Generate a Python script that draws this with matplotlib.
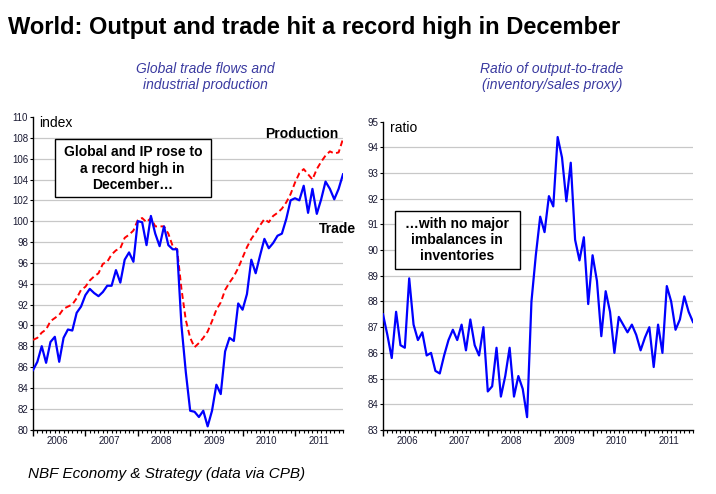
import numpy as np
import matplotlib
matplotlib.use("Agg")
import matplotlib.pyplot as plt
import matplotlib.transforms as mtransforms
from matplotlib import font_manager
from matplotlib.patches import Rectangle


def pick_font(*names):
    for n in names:
        try:
            font_manager.findfont(font_manager.FontProperties(family=n),
                                  fallback_to_default=False)
            return n
        except ValueError:
            continue
    return "DejaVu Sans"


SANS = pick_font("Liberation Sans", "Arial")
NARROW = pick_font("Liberation Sans Narrow", "Arial Narrow", SANS)
plt.rcParams["font.family"] = SANS

# --- data: monthly, Jan 2006 .. Dec 2011 ---
years = ["2006", "2007", "2008", "2009", "2010", "2011"]

production = [
    88.6, 88.8, 89.3, 89.6, 90.4, 90.7, 91.0, 91.6, 91.8, 92.0, 92.6, 93.4,
    93.7, 94.3, 94.7, 95.0, 95.9, 96.1, 96.8, 97.2, 97.4, 98.4, 98.7, 99.1,
    100.1, 100.3, 99.9, 100.3, 99.5, 99.5, 99.5, 98.8, 97.6, 97.3, 93.5, 90.5,
    88.8, 87.9, 88.3, 88.8, 89.4, 90.4, 91.5, 92.2, 93.4, 94.1, 94.7, 95.5,
    96.5, 97.5, 98.3, 98.9, 99.6, 100.2, 99.9, 100.5, 100.8, 101.2, 101.8, 102.6,
    103.7, 104.6, 105.0, 104.5, 104.0, 105.0, 105.7, 106.3, 106.7, 106.5, 106.6, 107.9,
]

trade = [
    85.7, 86.5, 88.0, 86.4, 88.4, 88.9, 86.5, 88.8, 89.6, 89.5, 91.2, 91.8,
    92.9, 93.5, 93.1, 92.8, 93.2, 93.8, 93.8, 95.3, 94.1, 96.3, 97.0, 96.1,
    100.0, 99.9, 97.7, 100.5, 98.8, 97.6, 99.5, 97.7, 97.3, 97.3, 90.0, 85.5,
    81.8, 81.7, 81.2, 81.8, 80.3, 81.8, 84.3, 83.4, 87.5, 88.8, 88.5, 92.1,
    91.5, 93.0, 96.3, 95.0, 96.7, 98.3, 97.4, 97.9, 98.6, 98.8, 100.2, 102.0,
    102.2, 102.0, 103.4, 100.8, 103.1, 100.7, 102.1, 103.8, 103.1, 102.1, 103.1, 104.5,
]

ratio = [
    87.5, 86.7, 85.8, 87.6, 86.3, 86.2, 88.9, 87.1, 86.5, 86.8, 85.9, 86.0,
    85.3, 85.2, 85.9, 86.5, 86.9, 86.5, 87.1, 86.1, 87.3, 86.3, 85.9, 87.0,
    84.5, 84.7, 86.2, 84.3, 85.1, 86.2, 84.3, 85.1, 84.6, 83.5, 88.0, 89.8,
    91.3, 90.7, 92.1, 91.7, 94.4, 93.6, 91.9, 93.4, 90.4, 89.6, 90.5, 87.9,
    89.8, 88.8, 86.65, 88.4, 87.6, 86.0, 87.4, 87.1, 86.8, 87.1, 86.7, 86.1,
    86.6, 87.0, 85.45, 87.1, 86.0, 88.6, 88.0, 86.9, 87.3, 88.2, 87.6, 87.2,
]

x = np.arange(len(trade))

W, H = 716, 494
fig = plt.figure(figsize=(W / 100, H / 100), dpi=100)


def fx(px):
    return px / W


def fy(py):
    return 1 - py / H


ax1 = fig.add_axes([fx(33), fy(429.5), 310 / W, 312.5 / H])
ax2 = fig.add_axes([fx(383), fy(430), 310 / W, 308.4 / H])


def style_axes(ax, ylo, yhi, step):
    ax.set_xlim(0, len(x) - 1)
    ax.set_ylim(ylo, yhi)
    ticks = np.arange(ylo, yhi + 0.01, step)
    ax.set_yticks(ticks)
    ax.set_yticklabels([f"{t:g}" for t in ticks], family=NARROW, fontsize=7,
                       color="#1a1a33")
    for t in ticks[1:-1]:
        ax.axhline(t, color="#c8c8c8", lw=0.9, zorder=0)
    for s in ["top", "right"]:
        ax.spines[s].set_visible(False)
    for s in ["left", "bottom"]:
        ax.spines[s].set_linewidth(1.0)
    ax.set_xticks(np.arange(0, len(x), 12))
    ax.set_xticks(np.arange(0, len(x)), minor=True)
    ax.tick_params(axis="x", which="major", length=4.5, width=1, labelbottom=False)
    ax.tick_params(axis="x", which="minor", length=2.2, width=0.8)
    ax.tick_params(axis="y", length=2.5, width=0.8, pad=1)
    trans = mtransforms.blended_transform_factory(ax.transData, ax.transAxes)
    for k, yr in enumerate(years):
        ax.text(12 * k + 5.5, -0.037, yr, transform=trans, ha="center",
                va="center", fontsize=7, family=NARROW, color="#1a1a33")


style_axes(ax1, 80, 110, 2)
style_axes(ax2, 83, 95, 1)

ax1.plot(x, production, color="#ff0000", lw=1.4, ls=(0, (3, 1.8)), zorder=3)
ax1.plot(x, trade, color="#0000ff", lw=1.6, zorder=4)
ax2.plot(x, ratio, color="#0000ff", lw=1.6, zorder=4)

# --- texts ---
fig.text(fx(8), fy(34), "World: Output and trade hit a record high in December",
         fontsize=17, fontweight="bold", va="baseline")

sub_color = "#3a3aa0"
fig.text(fx(205), fy(77), "Global trade flows and\nindustrial production",
         fontsize=10, style="italic", color=sub_color, ha="center", va="center",
         linespacing=1.25)
fig.text(fx(552), fy(77), "Ratio of output-to-trade\n(inventory/sales proxy)",
         fontsize=10, style="italic", color=sub_color, ha="center", va="center",
         linespacing=1.25)

fig.text(fx(39), fy(122.5), "index", fontsize=10, va="center")
fig.text(fx(390), fy(128.5), "ratio", fontsize=10, va="center")

fig.text(fx(301.5), fy(133.5), "Production", fontsize=10, fontweight="bold",
         ha="center", va="center")
fig.text(fx(337), fy(229), "Trade", fontsize=10, fontweight="bold",
         ha="center", va="center")

for (x0, y0, x1, y1), msg in [
    ((55, 139.5, 210.5, 197.5), "Global and IP rose to\na record high in\nDecember\u2026"),
    ((394.5, 211.5, 519.5, 268.5), "\u2026with no major\nimbalances in\ninventories"),
]:
    fig.patches.append(Rectangle((fx(x0), fy(y1)), fx(x1) - fx(x0), fy(y0) - fy(y1),
                                 transform=fig.transFigure, facecolor="white",
                                 edgecolor="black", lw=1.0, zorder=5))
    fig.text(fx((x0 + x1) / 2), fy((y0 + y1) / 2), msg, fontsize=10,
             fontweight="bold", ha="center", va="center", linespacing=1.2,
             zorder=6)

fig.text(fx(28), fy(474), "NBF Economy & Strategy (data via CPB)",
         fontsize=11, style="italic", va="center")

fig.savefig("out.png", dpi=100)
